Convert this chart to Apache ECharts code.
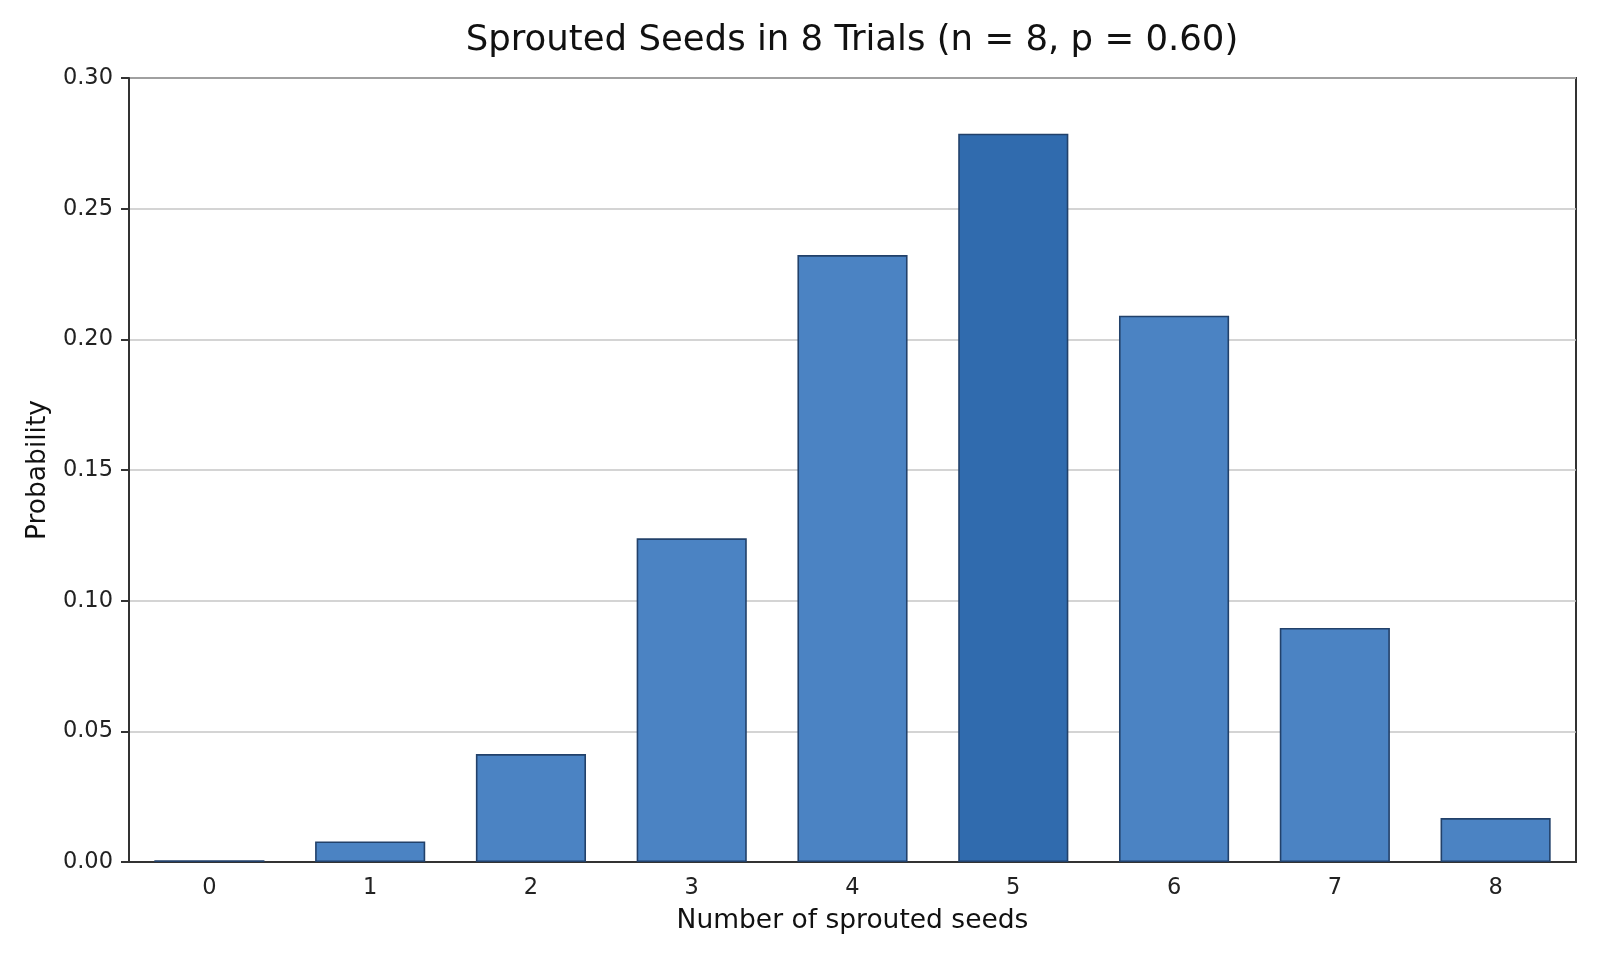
<!DOCTYPE html>
<html>
<head>
<meta charset="utf-8">
<script src="https://cdn.jsdelivr.net/npm/echarts@6/dist/echarts.min.js"></script>
<style>html,body{margin:0;padding:0;background:#fff}#chart{width:1600px;height:960px}</style>
</head>
<body>
<div id="chart"></div>
<script>
const categories = ['0','1','2','3','4','5','6','7','8'];
const probabilities = [0.00066, 0.00786, 0.04129, 0.12386, 0.23224, 0.27869, 0.20902, 0.08958, 0.01680];
const highlightIndex = 5;
const yTicks = [0, 0.05, 0.10, 0.15, 0.20, 0.25, 0.30];

const chart = echarts.init(document.getElementById('chart'));
const font = 'DejaVu Sans';
chart.setOption({
  animation: false,
  backgroundColor: '#ffffff',
  title: {
    text: 'Sprouted Seeds in 8 Trials (n = 8, p = 0.60)',
    left: 847, top: 18, textAlign: 'center',
    textStyle: {fontFamily: font, fontSize: 35.5, fontWeight: 'normal', color: '#111'}
  },
  grid: {left: 129, right: 24, top: 78, bottom: 98, show: true, borderColor: '#333', borderWidth: 2, backgroundColor: 'transparent'},
  xAxis: {
    type: 'category', data: categories,
    name: 'Number of sprouted seeds', nameLocation: 'middle', nameGap: 46,
    nameTextStyle: {fontFamily: font, fontSize: 26.5, color: '#111'},
    axisLine: {lineStyle: {color: '#333', width: 2}},
    axisTick: {alignWithLabel: true, length: 8, lineStyle: {color: '#333', width: 2}},
    axisLabel: {fontFamily: font, fontSize: 22.5, color: '#222', margin: 15},
    splitLine: {show: false}
  },
  yAxis: {
    type: 'value', min: 0, max: 0.3, interval: 0.05,
    name: 'Probability', nameLocation: 'middle', nameGap: 77,
    nameTextStyle: {fontFamily: font, fontSize: 26.5, color: '#111'},
    axisLine: {show: true, lineStyle: {color: '#333', width: 2}},
    axisTick: {show: true, length: 8, lineStyle: {color: '#333', width: 2}},
    axisLabel: {fontFamily: font, fontSize: 22.5, color: '#222', margin: 16, formatter: v => v.toFixed(2)},
    splitLine: {show: true, lineStyle: {color: '#c6c6c6', width: 1.5}}
  },
  series: [{
    type: 'bar',
    barWidth: '68.5%',
    data: probabilities.map((v, i) => ({
      value: v,
      itemStyle: {color: i === highlightIndex ? '#306bae' : '#4b83c3'}
    })),
    itemStyle: {borderColor: '#22416a', borderWidth: 1.6}
  }]
});
</script>
</body>
</html>
